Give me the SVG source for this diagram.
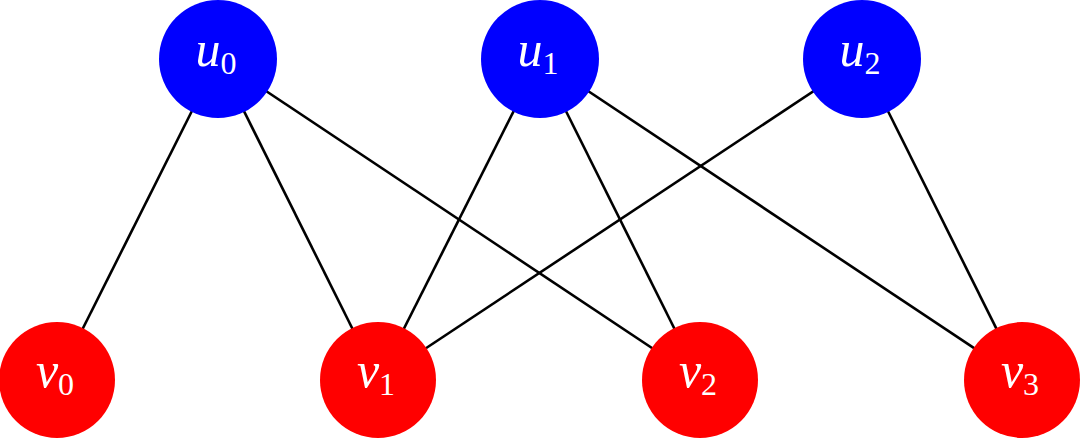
<svg xmlns="http://www.w3.org/2000/svg" width="1080" height="438" viewBox="0 0 1080 438">
<style>
.e{stroke:#000;stroke-width:2.6;fill:none}
.u{fill:#0000ff}
.v{fill:#ff0000}
.t{font-family:"Liberation Serif","DejaVu Serif",serif;fill:#fff;text-anchor:middle}
.m{font-style:italic;font-size:50px}
.s{font-size:32px}
</style>
<rect width="1080" height="438" fill="#fff"/>
<g id="edges">
<line class="e" x1="218" y1="59" x2="57" y2="380"/>
<line class="e" x1="218" y1="59" x2="378" y2="380"/>
<line class="e" x1="218" y1="59" x2="700" y2="380"/>
<line class="e" x1="540" y1="59" x2="378" y2="380"/>
<line class="e" x1="540" y1="59" x2="700" y2="380"/>
<line class="e" x1="540" y1="59" x2="1022" y2="380"/>
<line class="e" x1="862" y1="59" x2="378" y2="380"/>
<line class="e" x1="862" y1="59" x2="1022" y2="380"/>
</g>
<g id="u0"><circle class="u" cx="218" cy="59" r="59"/><text class="t" x="216" y="66"><tspan class="m">u</tspan><tspan class="s" dy="8">0</tspan></text></g>
<g id="u1"><circle class="u" cx="540" cy="59" r="59"/><text class="t" x="538" y="66"><tspan class="m">u</tspan><tspan class="s" dy="8">1</tspan></text></g>
<g id="u2"><circle class="u" cx="862" cy="59" r="59"/><text class="t" x="860" y="66"><tspan class="m">u</tspan><tspan class="s" dy="8">2</tspan></text></g>
<g id="v0"><circle class="v" cx="57" cy="380" r="58"/><text class="t" x="55" y="387"><tspan class="m">v</tspan><tspan class="s" dy="8">0</tspan></text></g>
<g id="v1"><circle class="v" cx="378" cy="380" r="58"/><text class="t" x="376" y="387"><tspan class="m">v</tspan><tspan class="s" dy="8">1</tspan></text></g>
<g id="v2"><circle class="v" cx="700" cy="380" r="58"/><text class="t" x="698" y="387"><tspan class="m">v</tspan><tspan class="s" dy="8">2</tspan></text></g>
<g id="v3"><circle class="v" cx="1022" cy="380" r="58"/><text class="t" x="1020" y="387"><tspan class="m">v</tspan><tspan class="s" dy="8">3</tspan></text></g>
</svg>
